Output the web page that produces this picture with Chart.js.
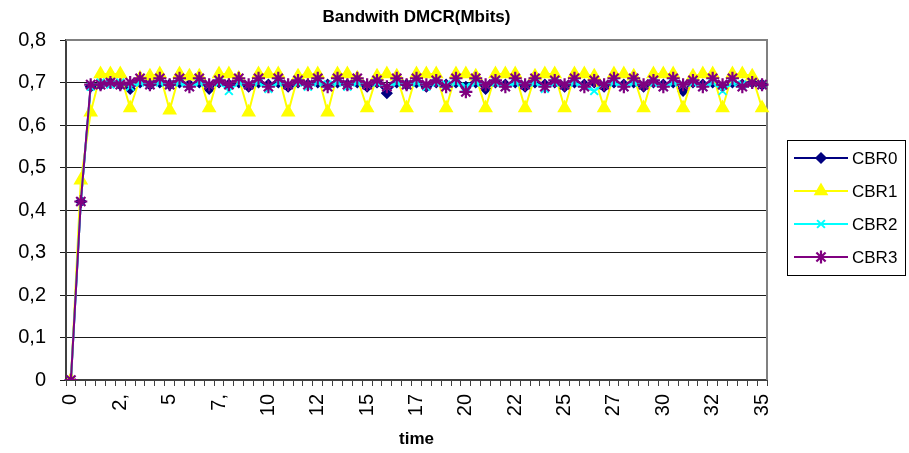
<!DOCTYPE html>
<html>
<head>
<meta charset="utf-8">
<script src="https://cdn.jsdelivr.net/npm/chart.js@4.4.0/dist/chart.umd.min.js"></script>
<style>
  html, body { margin: 0; padding: 0; background: #fff; }
  #wrap { width: 909px; height: 453px; }
</style>
</head>
<body>
<div id="wrap"><canvas id="chart" width="909" height="453"></canvas></div>
<script>
// time axis (categories) and the labels Excel actually printed under the ticks
const time = [0, 0.5, 1, 1.5, 2, 2.5, 3, 3.5, 4, 4.5, 5, 5.5, 6, 6.5, 7, 7.5, 8, 8.5, 9, 9.5,
  10, 10.5, 11, 11.5, 12, 12.5, 13, 13.5, 14, 14.5, 15, 15.5, 16, 16.5, 17, 17.5, 18, 18.5, 19, 19.5,
  20, 20.5, 21, 21.5, 22, 22.5, 23, 23.5, 24, 24.5, 25, 25.5, 26, 26.5, 27, 27.5, 28, 28.5, 29, 29.5,
  30, 30.5, 31, 31.5, 32, 32.5, 33, 33.5, 34, 34.5, 35];
const tickLabels = ['0', '2,', '5', '7,', '10', '12', '15', '17', '20', '22', '25', '27', '30', '32', '35'];

const cbr0 = [0, 0.42, 0.69, 0.695, 0.70, 0.695, 0.685, 0.70, 0.695, 0.70,
  0.695, 0.70, 0.695, 0.70, 0.685, 0.70, 0.695, 0.70, 0.69, 0.70,
  0.695, 0.70, 0.69, 0.70, 0.695, 0.70, 0.695, 0.70, 0.695, 0.70,
  0.69, 0.70, 0.675, 0.70, 0.695, 0.70, 0.69, 0.70, 0.695, 0.70,
  0.69, 0.70, 0.685, 0.70, 0.695, 0.70, 0.69, 0.70, 0.695, 0.70,
  0.69, 0.70, 0.695, 0.70, 0.69, 0.70, 0.695, 0.70, 0.69, 0.70,
  0.695, 0.70, 0.68, 0.70, 0.695, 0.70, 0.69, 0.70, 0.695, 0.70,
  0.695];
const cbr1 = [0, 0.47, 0.63, 0.72, 0.72, 0.72, 0.64, 0.71, 0.715, 0.72,
  0.635, 0.72, 0.715, 0.715, 0.64, 0.72, 0.72, 0.71, 0.63, 0.72,
  0.72, 0.72, 0.63, 0.715, 0.72, 0.72, 0.63, 0.72, 0.72, 0.71,
  0.64, 0.715, 0.72, 0.715, 0.64, 0.72, 0.72, 0.72, 0.64, 0.72,
  0.72, 0.715, 0.64, 0.72, 0.72, 0.72, 0.64, 0.715, 0.72, 0.72,
  0.64, 0.72, 0.72, 0.715, 0.64, 0.72, 0.72, 0.715, 0.64, 0.72,
  0.72, 0.72, 0.64, 0.715, 0.72, 0.72, 0.64, 0.72, 0.72, 0.715,
  0.64];
const cbr2 = [0, 0.42, 0.69, 0.70, 0.695, 0.70, 0.69, 0.70, 0.695, 0.70,
  0.695, 0.70, 0.69, 0.70, 0.695, 0.70, 0.68, 0.70, 0.695, 0.70,
  0.685, 0.70, 0.695, 0.70, 0.69, 0.70, 0.695, 0.70, 0.69, 0.70,
  0.695, 0.70, 0.69, 0.70, 0.695, 0.70, 0.69, 0.70, 0.695, 0.70,
  0.69, 0.70, 0.695, 0.70, 0.69, 0.70, 0.695, 0.70, 0.685, 0.70,
  0.695, 0.70, 0.69, 0.68, 0.695, 0.70, 0.69, 0.70, 0.695, 0.70,
  0.69, 0.70, 0.695, 0.70, 0.69, 0.70, 0.68, 0.70, 0.695, 0.70,
  0.695];
const cbr3 = [0, 0.42, 0.695, 0.695, 0.70, 0.695, 0.70, 0.71, 0.695, 0.71,
  0.695, 0.71, 0.69, 0.71, 0.695, 0.705, 0.695, 0.71, 0.695, 0.71,
  0.69, 0.71, 0.695, 0.705, 0.695, 0.71, 0.69, 0.71, 0.695, 0.71,
  0.695, 0.705, 0.69, 0.71, 0.695, 0.71, 0.695, 0.705, 0.69, 0.71,
  0.678, 0.71, 0.695, 0.705, 0.69, 0.71, 0.695, 0.71, 0.69, 0.705,
  0.695, 0.71, 0.69, 0.705, 0.695, 0.71, 0.69, 0.71, 0.695, 0.705,
  0.69, 0.71, 0.695, 0.705, 0.69, 0.71, 0.695, 0.71, 0.69, 0.70,
  0.695];

const FONT = '"Liberation Sans", Arial, sans-serif';

function series(label, data, color, style, radius, bw, order){
    return {
        label: label,
        data: data,
        borderColor: color,
        backgroundColor: color,
        pointBackgroundColor: color,
        pointBorderColor: color,
        pointStyle: style,
        pointRadius: radius,
        pointBorderWidth: bw,
        borderWidth: 2,
        tension: 0,
        order: order
    };
}

// gray frame of the excel plot area (top + right side)
const plotFrame = {
    id: 'plotFrame',
    beforeDatasetsDraw(chart){
        const a = chart.chartArea;
        const ctx = chart.ctx;
        ctx.save();
        ctx.strokeStyle = '#808080';
        ctx.lineWidth = 2;
        ctx.beginPath();
        ctx.moveTo(a.left, a.top);
        ctx.lineTo(a.right, a.top);
        ctx.lineTo(a.right, a.bottom);
        ctx.stroke();
        ctx.restore();
    }
};

// excel style legend: line with marker, boxed
const boxLegend = {
    id: 'boxLegend',
    afterDraw(chart){
        const ctx = chart.ctx;
        const x0 = chart.chartArea.right + 20;
        const top = 140;
        ctx.save();
        ctx.strokeStyle = '#000';
        ctx.lineWidth = 1;
        ctx.strokeRect(x0 + 0.5, top + 0.5, 118, 135);
        chart.data.datasets.forEach((ds, i) => {
            const y = top + 18 + i * 33;
            ctx.strokeStyle = ds.borderColor;
            ctx.lineWidth = 2;
            ctx.beginPath();
            ctx.moveTo(x0 + 7, y);
            ctx.lineTo(x0 + 61, y);
            ctx.stroke();
            ctx.fillStyle = ds.pointBackgroundColor;
            ctx.strokeStyle = ds.pointBorderColor;
            ctx.lineWidth = ds.pointBorderWidth;
            Chart.helpers.drawPoint(ctx, {pointStyle: ds.pointStyle, radius: ds.pointRadius, rotation: 0, borderWidth: ds.pointBorderWidth}, x0 + 34, y);
            ctx.fillStyle = '#000';
            ctx.font = '17px ' + FONT;
            ctx.textBaseline = 'middle';
            ctx.textAlign = 'left';
            ctx.fillText(ds.label, x0 + 65, y + 1);
        });
        ctx.restore();
    }
};

new Chart(document.getElementById('chart'), {
    type: 'line',
    data: {
        labels: time,
        datasets: [
            series('CBR0', cbr0, '#000080', 'rectRot', 5, 1.5, 3),
            series('CBR1', cbr1, '#FFFF00', 'triangle', 7, 1.5, 2),
            series('CBR2', cbr2, '#00FFFF', 'crossRot', 5.5, 2, 1),
            series('CBR3', cbr3, '#800080', 'star', 6.5, 2.2, 0)
        ]
    },
    options: {
        responsive: false,
        animation: false,
        layout: {padding: {left: 0, right: 142, top: 0, bottom: 0}},
        plugins: {
            legend: {display: false},
            tooltip: {enabled: false},
            title: {
                display: true,
                text: 'Bandwith DMCR(Mbits)',
                fullSize: false,
                color: '#000',
                font: {family: FONT, size: 17, weight: 'bold'},
                padding: {top: 7, bottom: 12.6}
            }
        },
        scales: {
            x: {
                type: 'category',
                offset: true,
                afterFit: (scale) => { scale.height = 73; },
                grid: {display: true, drawOnChartArea: false, drawTicks: true, tickLength: 6, color: '#404040', offset: true},
                border: {display: true, color: '#404040', width: 2},
                ticks: {
                    autoSkip: false,
                    minRotation: 90,
                    maxRotation: 90,
                    padding: 8,
                    color: '#000',
                    font: {family: FONT, size: 20},
                    callback: (val, index) => index % 5 === 0 ? tickLabels[index / 5] : ''
                },
                title: {
                    display: true,
                    text: 'time',
                    color: '#000',
                    font: {family: FONT, size: 17, weight: 'bold'},
                    padding: {top: 0, bottom: 3}
                }
            },
            y: {
                min: 0,
                max: 0.8,
                afterFit: (scale) => { scale.width = 66; },
                grid: {color: '#1a1a1a', lineWidth: 1, tickLength: 6, drawTicks: true},
                border: {display: true, color: '#404040', width: 2},
                ticks: {
                    stepSize: 0.1,
                    padding: 14,
                    color: '#000',
                    font: {family: FONT, size: 20},
                    callback: (v) => v === 0 ? '0' : v.toFixed(1).replace('.', ',')
                }
            }
        }
    },
    plugins: [plotFrame, boxLegend]
});
</script>
</body>
</html>
